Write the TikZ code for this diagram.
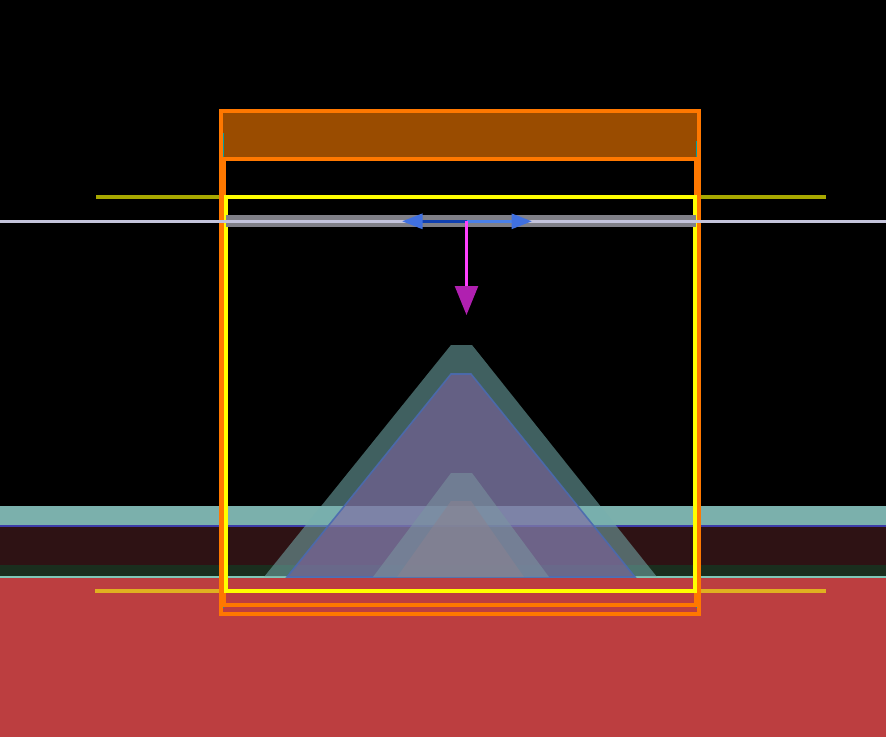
\documentclass[tikz,border=0pt]{standalone}
\usetikzlibrary{arrows.meta}
\definecolor{groundred}{HTML}{BC3E40}
\definecolor{mossdark}{HTML}{1A2E1E}
\definecolor{soilmaroon}{HTML}{2E1214}
\definecolor{waterteal}{HTML}{7BB0AC}
\definecolor{lineblue}{HTML}{3C3CA8}
\definecolor{paleteal}{HTML}{80C8B8}
\definecolor{hillteal}{HTML}{76AFAF}
\definecolor{hillpurple}{HTML}{8260A3}
\definecolor{hilledge}{HTML}{4A6AB0}
\definecolor{hillgray}{HTML}{7A96A0}
\definecolor{hillstone}{HTML}{8A8290}
\definecolor{boxbrown}{HTML}{9A4C00}
\definecolor{frameorange}{HTML}{FF7800}
\definecolor{frameyellow}{HTML}{FFFF00}
\definecolor{oliveline}{HTML}{A8A800}
\definecolor{goldline}{HTML}{E0B020}
\definecolor{barsgray}{HTML}{808088}
\definecolor{horizon}{HTML}{C4C4DC}
\definecolor{arrowdark}{HTML}{1040B0}
\definecolor{arrowlight}{HTML}{4A80E8}
\definecolor{headblue}{HTML}{4070E0}
\definecolor{dropmagenta}{HTML}{FF40FF}
\definecolor{headmagenta}{HTML}{B020B0}
\definecolor{edgecyan}{HTML}{00A0A0}
\tikzset{
  hill/.style={fill opacity=0.55, draw=none},
  frame/.style={draw=frameorange, line width=1.9pt},
  guide/.style={line width=1.9pt},
  sidearrow/.style={line width=1.7pt,
    -{Triangle[length=0.41cm,width=0.3cm,fill=headblue,color=headblue]}},
  droparrow/.style={draw=dropmagenta, line width=1.4pt,
    -{Triangle[length=0.58cm,width=0.46cm,fill=headmagenta,color=headmagenta]}}
}

\begin{document}
\begin{tikzpicture}[x=0.02cm,y=-0.02cm]
\fill[black] (0,0) rectangle (886,737);
\useasboundingbox (0,0) rectangle (886,737);
% ground layers
\fill[groundred] (0,577) rectangle (886,737);
\fill[mossdark] (0,565) rectangle (886,577);
\fill[soilmaroon] (0,527) rectangle (886,565);
\fill[waterteal] (0,506) rectangle (886,525);
\draw[lineblue, line width=1.5pt] (0,526) -- (886,526);
\draw[paleteal, line width=0.8pt] (0,577) -- (886,577);
% hills
\fill[hill, hillteal] (264,577) -- (451,345) -- (472,345) -- (657,577) -- cycle;
\filldraw[hill, fill=hillpurple, draw=hilledge, draw opacity=0.9, line width=0.9pt]
  (287,577) -- (451,374) -- (471,374) -- (635,577) -- cycle;
\fill[hill, hillgray] (373,577) -- (451,473) -- (472,473) -- (549,577) -- cycle;
\fill[hill, hillstone] (397,577) -- (451,501) -- (471,501) -- (524,577) -- cycle;
% box and frames
\draw[oliveline, guide] (96,197) -- (826,197);
\draw[goldline, guide] (95,591) -- (826,591);
\fill[boxbrown] (221,111) rectangle (699,159);
\draw[edgecyan, line width=0.6pt] (223.5,133) -- (223.5,608);
\draw[edgecyan, line width=0.6pt] (697,141) -- (697,608);
\draw[frame] (221,111) rectangle (699,614);
\draw[frame] (224,159) rectangle (696,605);
\draw[frameyellow, guide] (226,197) rectangle (695,591);
% bar and arrows
\fill[barsgray] (226,215) rectangle (696,227);
\draw[horizon, line width=1.5pt] (0,221.3) -- (886,221.3);
\coordinate (mid) at (466.5,221.3);
\coordinate (lefttip) at (402,221.3);
\coordinate (righttip) at (532,221.3);
\coordinate (droptip) at (466.5,315);
\draw[sidearrow, arrowdark] (mid) -- (lefttip);
\draw[sidearrow, arrowlight] (mid) -- (righttip);
\draw[droparrow] (mid) -- (droptip);
\end{tikzpicture}
\end{document}
